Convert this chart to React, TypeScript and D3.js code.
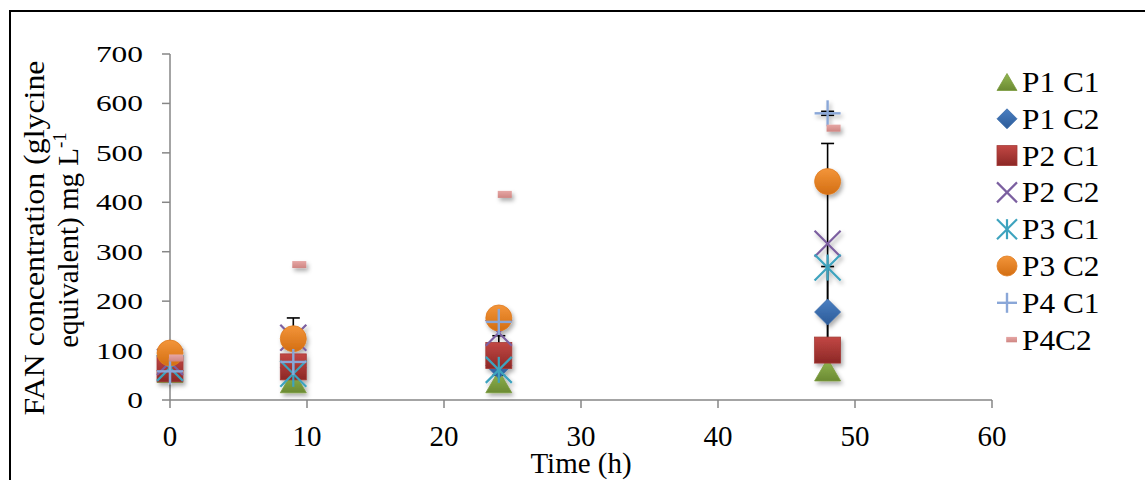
import React from "react";
import * as d3 from "d3";

const times = [0, 9, 24, 48];
const p1c1 = [58, 37, 37, 61];
const p1c2 = [60, 65, 70, 178];
const p2c1 = [63, 67, 90, 101];
const p2c2 = [77, 126, 136, 316];
const p3c1 = [65, 53, 61, 268];
const p3c2 = [95, 124, 166, 442];
const p4c1 = [58, 77, 158, 580];
const p4c2 = [85, 274, 416, 550];

const p1c2Err = [0, 0, 0, 92];
const p2c1Err = [0, 0, 40, 0];
const p2c2Err = [0, 40, 0, 203];
const p4c1Err = [0, 0, 0, 4];

const xTicks = [0, 10, 20, 30, 40, 50, 60];
const yTicks = [0, 100, 200, 300, 400, 500, 600, 700];

const seriesNames = ["P1 C1", "P1 C2", "P2 C1", "P2 C2", "P3 C1", "P3 C2", "P4 C1", "P4C2"];
const seriesMarkers = ["triangle", "diamond", "square", "x", "star", "circle", "plus", "dash"];
const seriesValues = [p1c1, p1c2, p2c1, p2c2, p3c1, p3c2, p4c1, p4c2];
const seriesErrors = [null, p1c2Err, p2c1Err, p2c2Err, null, null, p4c1Err, null];

const FONT = "Liberation Serif";

function Marker({ type, cx, cy, s }: { type: string; cx: number; cy: number; s: number }) {
  const h = s / 2;
  switch (type) {
    case "triangle":
      return (
        <polygon
          points={`${cx},${cy - h * 0.85} ${cx - h},${cy + h * 0.85} ${cx + h},${cy + h * 0.85}`}
          fill="url(#gGreen)"
          stroke="#7A9A3C"
          strokeWidth={0.8}
        />
      );
    case "diamond":
      return (
        <polygon
          points={`${cx},${cy - h} ${cx + h},${cy} ${cx},${cy + h} ${cx - h},${cy}`}
          fill="url(#gBlue)"
          stroke="#3A6BAA"
          strokeWidth={0.8}
        />
      );
    case "square":
      return <rect x={cx - h} y={cy - h} width={s} height={s} fill="url(#gRed)" stroke="#A33B38" strokeWidth={0.8} />;
    case "x":
      return (
        <g stroke="#7B5FA0" strokeWidth={2.2}>
          <line x1={cx - h} y1={cy - h} x2={cx + h} y2={cy + h} />
          <line x1={cx - h} y1={cy + h} x2={cx + h} y2={cy - h} />
        </g>
      );
    case "star":
      return (
        <g stroke="#3DA3BE" strokeWidth={2.2}>
          <line x1={cx - h} y1={cy - h} x2={cx + h} y2={cy + h} />
          <line x1={cx - h} y1={cy + h} x2={cx + h} y2={cy - h} />
          <line x1={cx} y1={cy - h} x2={cx} y2={cy + h} />
        </g>
      );
    case "circle":
      return <circle cx={cx} cy={cy} r={h} fill="url(#gOrange)" stroke="#E07B1E" strokeWidth={0.8} />;
    case "plus":
      return (
        <g stroke="#8AA7D8" strokeWidth={2.4}>
          <line x1={cx - h} y1={cy} x2={cx + h} y2={cy} />
          <line x1={cx} y1={cy - h} x2={cx} y2={cy + h} />
        </g>
      );
    case "dash": {
      const w = s * 0.54;
      const hh = s * 0.27;
      const off = s * 0.23;
      return <rect x={cx + off - w / 2} y={cy - hh / 2} width={w} height={hh} fill="url(#gPink)" />;
    }
  }
  return null;
}

export default function App() {
  const x = d3.scaleLinear().domain([0, 60]).range([170, 992]);
  const y = d3.scaleLinear().domain([0, 700]).range([400, 54]);

  const legendY = (i: number) => 82 + i * 36.8;

  return (
    <svg width={1145} height={480} style={{ position: "absolute", left: 0, top: 0, background: "#fff" }}>
      <defs>
        <linearGradient id="gGreen" x1="0" y1="0" x2="0" y2="1">
          <stop offset="0" stopColor="#93B752" />
          <stop offset="1" stopColor="#6B8A32" />
        </linearGradient>
        <linearGradient id="gBlue" x1="0" y1="0" x2="0" y2="1">
          <stop offset="0" stopColor="#4A7FC2" />
          <stop offset="1" stopColor="#2C5B98" />
        </linearGradient>
        <linearGradient id="gRed" x1="0" y1="0" x2="0" y2="1">
          <stop offset="0" stopColor="#C24744" />
          <stop offset="1" stopColor="#8C2826" />
        </linearGradient>
        <linearGradient id="gOrange" x1="0" y1="0" x2="0" y2="1">
          <stop offset="0" stopColor="#F3953A" />
          <stop offset="1" stopColor="#D36E12" />
        </linearGradient>
        <linearGradient id="gPink" x1="0" y1="0" x2="0" y2="1">
          <stop offset="0" stopColor="#E6A7A5" />
          <stop offset="1" stopColor="#CF8582" />
        </linearGradient>
        <filter id="shadow" x="-50%" y="-50%" width="200%" height="200%">
          <feDropShadow dx="2" dy="3" stdDeviation="2.2" floodColor="#000" floodOpacity="0.32" />
        </filter>
      </defs>

      {/* outer border */}
      <rect x={10} y={11} width={1300} height={700} fill="none" stroke="#000" strokeWidth={2} />

      {/* axes */}
      <g stroke="#868686" strokeWidth={1.5} fill="none">
        <line x1={x(0)} y1={y(0)} x2={x(60)} y2={y(0)} />
        <line x1={x(0)} y1={y(0)} x2={x(0)} y2={y(700)} />
        {yTicks.map((t) => (
          <line key={"yt" + t} x1={x(0) - 8} x2={x(0)} y1={y(t)} y2={y(t)} />
        ))}
        {xTicks.map((t) => (
          <line key={"xt" + t} x1={x(t)} x2={x(t)} y1={y(0)} y2={y(0) + 8} />
        ))}
      </g>

      {/* tick labels */}
      <g style={{ fontFamily: FONT }} fill="#000">
        {yTicks.map((t) => {
          const label = String(t);
          return (
            <text
              key={"yl" + t}
              x={143}
              y={y(t) + 8}
              fontSize={24}
              textAnchor="end"
              textLength={label.length * 15.7}
              lengthAdjust="spacingAndGlyphs"
            >
              {label}
            </text>
          );
        })}
        {xTicks.map((t) => (
          <text key={"xl" + t} x={x(t)} y={446} fontSize={29} textAnchor="middle">
            {t}
          </text>
        ))}
      </g>

      {/* axis titles */}
      <text x={581} y={473} style={{ fontFamily: FONT }} fontSize={29} textAnchor="middle">
        Time (h)
      </text>
      <g style={{ fontFamily: FONT }} fontSize={29}>
        <text
          transform="translate(44,238) rotate(-90)"
          textAnchor="middle"
          textLength={355}
          lengthAdjust="spacingAndGlyphs"
        >
          FAN concentration (glycine
        </text>
        <text transform="translate(78,240) rotate(-90)" textAnchor="middle">
          equivalent) mg L
          <tspan fontSize={19} dy={-12}>-1</tspan>
        </text>
      </g>

      {/* error bars */}
      <g stroke="#000" strokeWidth={1.6}>
        {seriesErrors.map((errs, si) =>
          errs
            ? errs.map((e, i) => {
                if (!e) return null;
                const v = seriesValues[si][i];
                const cx = x(times[i]);
                return (
                  <g key={`e${si}-${i}`}>
                    <line x1={cx} x2={cx} y1={y(v + e)} y2={y(v - e)} />
                    <line x1={cx - 6.5} x2={cx + 6.5} y1={y(v + e)} y2={y(v + e)} />
                    <line x1={cx - 6.5} x2={cx + 6.5} y1={y(v - e)} y2={y(v - e)} />
                  </g>
                );
              })
            : null
        )}
      </g>

      {/* markers */}
      <g filter="url(#shadow)">
        {seriesValues.map((vals, si) =>
          vals.map((v, i) => (
            <Marker key={`m${si}-${i}`} type={seriesMarkers[si]} cx={x(times[i])} cy={y(v)} s={26} />
          ))
        )}
      </g>

      {/* legend */}
      <g>
        {seriesNames.map((n, i) => (
          <g key={"lg" + i}>
            <Marker type={seriesMarkers[i]} cx={1007} cy={legendY(i)} s={20} />
            <text
              transform={`translate(1022,${legendY(i) + 10}) scale(1.08,1)`}
              style={{ fontFamily: FONT }}
              fontSize={29}
            >
              {n}
            </text>
          </g>
        ))}
      </g>
    </svg>
  );
}
